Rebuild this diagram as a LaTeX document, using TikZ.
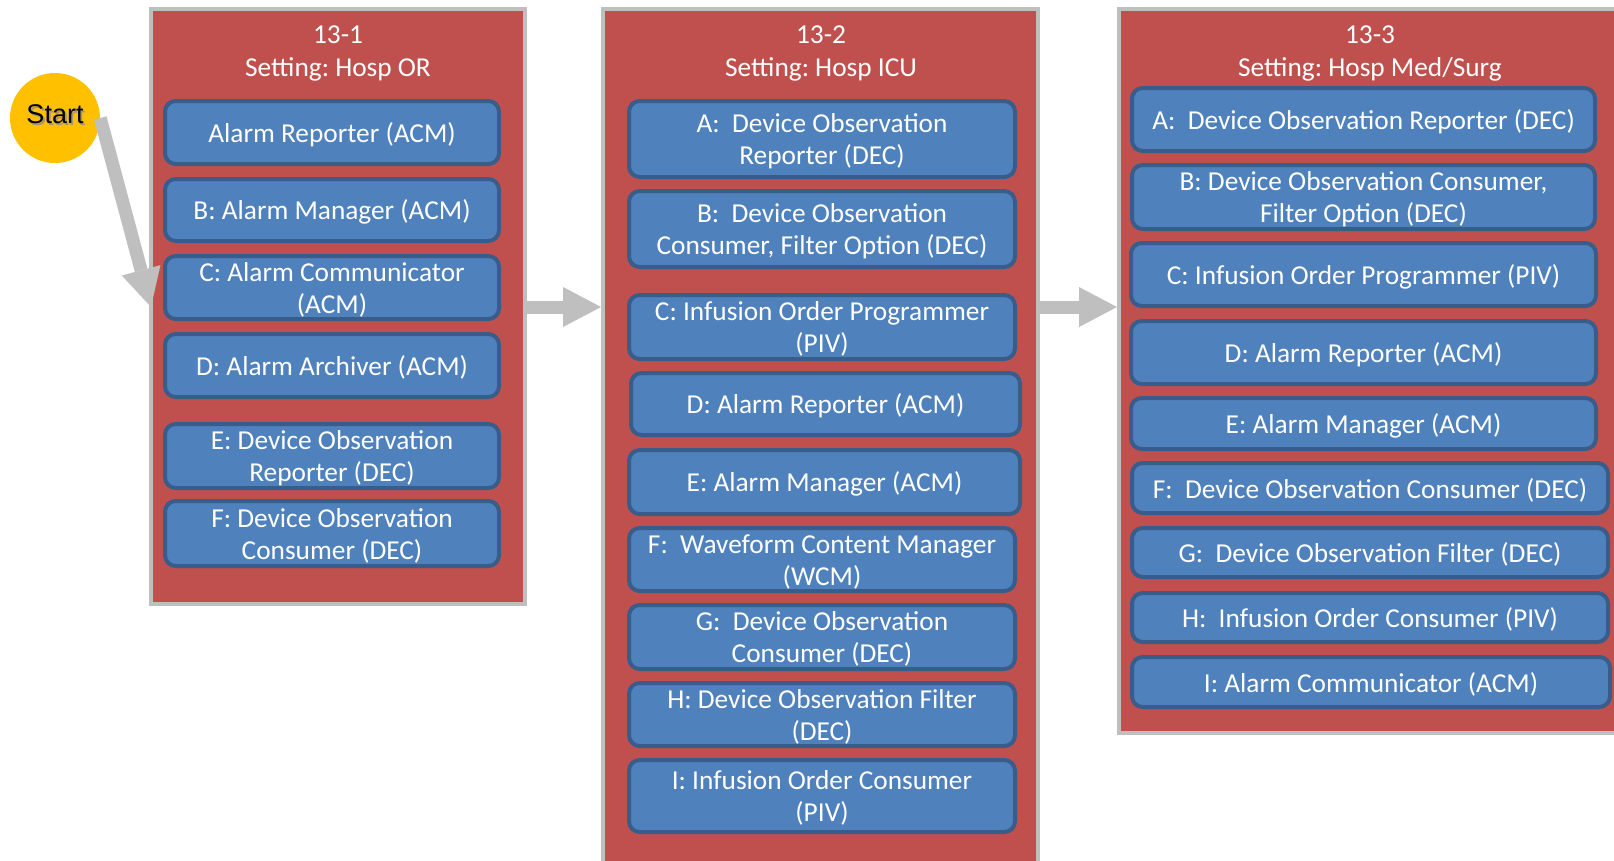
\documentclass[tikz,border=0pt]{standalone}
\usepackage{fontspec}
\setmainfont{Carlito}
\newfontfamily\arialfont{Liberation Sans}
\usetikzlibrary{arrows.meta}
\frenchspacing
\definecolor{pred}{HTML}{C0504D}
\definecolor{pgray}{HTML}{BFBFBF}
\definecolor{bfill}{HTML}{4F81BD}
\definecolor{bline}{HTML}{385D8A}
\definecolor{syellow}{HTML}{FFC000}
\def\px{0.75bp}
\tikzset{
  panel/.style={draw=pgray, fill=pred, line width=3bp, inner sep=0pt},
  bluebox/.style={draw=bline, fill=bfill, line width=3bp, rounded corners=8bp, inner sep=0pt},
  boxtext/.style={text=white, align=center, inner sep=0pt, yshift=-1.6bp,
    font=\frenchspacing\fontsize{20.5bp}{24bp}\selectfont},
  ttl/.style={text=white, align=center, inner sep=0pt, font=\frenchspacing\fontsize{20.5bp}{24.75bp}\selectfont},
  blockarrow/.style={draw=pgray, line width=9.75bp, -{Triangle[length=28.5bp, width=30bp, line width=0pt]}},
  startc/.style={circle, fill=syellow, draw=none, minimum size=90*\px, inner sep=0pt},
  starttxt/.style={inner sep=0pt, font=\arialfont\fontsize{20.25bp}{24bp}\selectfont},
}
\newcommand\mybox[6]{\node[bluebox, minimum width=#4*\px, minimum height=#5*\px,
  label={[boxtext]center:#6}] (#1) at (#2,#3) {};}
\begin{document}
\begin{tikzpicture}[x=0.75bp, y=-0.75bp]
\useasboundingbox (0,0) rectangle (1614,860);
\clip (0,0) rectangle (1614,860);
\fill[white] (0,0) rectangle (1614,860);

% panels
\node[panel, minimum width=374*\px, minimum height=595*\px] (p1) at (338,306.5) {};
\node[panel, minimum width=435*\px, minimum height=891*\px] (p2) at (820.5,454.5) {};
\node[panel, minimum width=502*\px, minimum height=724*\px] (p3) at (1370,371) {};

\node[ttl] (t1) at (338,53.5) {13-1\\Setting: Hosp OR};
\node[ttl] (t2) at (821,53.5) {13-2\\Setting: Hosp ICU};
\node[ttl] (t3) at (1370,53.5) {13-3\\Setting: Hosp Med/Surg};

% start
\node[startc] (start) at (55,118) {};
\node[starttxt, text=black!45, opacity=0.8] (startshadow) at (56.8,116.3) {Start};
\node[starttxt, text=black] (starttext) at (55,114.5) {Start};
\coordinate (tip0) at (151,307);
\draw[blockarrow] (start.east) -- (tip0);

% arrows between panels
\draw[blockarrow] (p1.east |- 0,307) -- (p2.west |- 0,307);
\draw[blockarrow] (p2.east |- 0,307) -- (p3.west |- 0,307);

% panel 1
\mybox{a1}{332}{132.5}{334}{63}{Alarm Reporter (ACM)}
\mybox{b1}{332}{210}{334}{62}{B: Alarm Manager (ACM)}
\mybox{c1}{332}{287.5}{334}{63}{C: Alarm Communicator\\(ACM)}
\mybox{d1}{332}{365.5}{334}{63}{D: Alarm Archiver (ACM)}
\mybox{e1}{332}{456}{334}{64}{E: Device Observation\\Reporter (DEC)}
\mybox{f1}{332}{533.5}{334}{65}{F: Device Observation\\Consumer (DEC)}

% panel 2
\mybox{a2}{822}{139}{386}{76}{A:\ \ Device Observation\\Reporter (DEC)}
\mybox{b2}{822}{229}{386}{76}{B:\ \ Device Observation\\Consumer, Filter Option (DEC)}
\mybox{c2}{822}{327}{386}{64}{C: Infusion Order Programmer\\(PIV)}
\mybox{d2}{825.5}{404}{389}{62}{D: Alarm Reporter (ACM)}
\mybox{e2}{824.5}{482}{391}{64}{E: Alarm Manager (ACM)}
\mybox{f2}{822}{559.5}{386}{63}{F:\ \ Waveform Content Manager\\(WCM)}
\mybox{g2}{822}{637}{386}{64}{G:\ \ Device Observation\\Consumer (DEC)}
\mybox{h2}{822}{714.5}{386}{63}{H: Device Observation Filter\\(DEC)}
\mybox{i2}{822}{796}{386}{72}{I: Infusion Order Consumer\\(PIV)}

% panel 3
\mybox{a3}{1363.5}{119.5}{463}{63}{A:\ \ Device Observation Reporter (DEC)}
\mybox{b3}{1363.5}{197}{463}{64}{B: Device Observation Consumer,\\Filter Option (DEC)}
\mybox{c3}{1363.5}{274.5}{465}{63}{C: Infusion Order Programmer (PIV)}
\mybox{d3}{1363.5}{352.5}{465}{63}{D: Alarm Reporter (ACM)}
\mybox{e3}{1363.5}{423.5}{465}{51}{E: Alarm Manager (ACM)}
\mybox{f3}{1370}{488}{476}{50}{F:\ \ Device Observation Consumer (DEC)}
\mybox{g3}{1370}{552.5}{476}{49}{G:\ \ Device Observation Filter (DEC)}
\mybox{h3}{1370}{617.5}{476}{49}{H:\ \ Infusion Order Consumer (PIV)}
\mybox{i3}{1371}{682}{478}{50}{I: Alarm Communicator (ACM)}
\end{tikzpicture}
\end{document}
